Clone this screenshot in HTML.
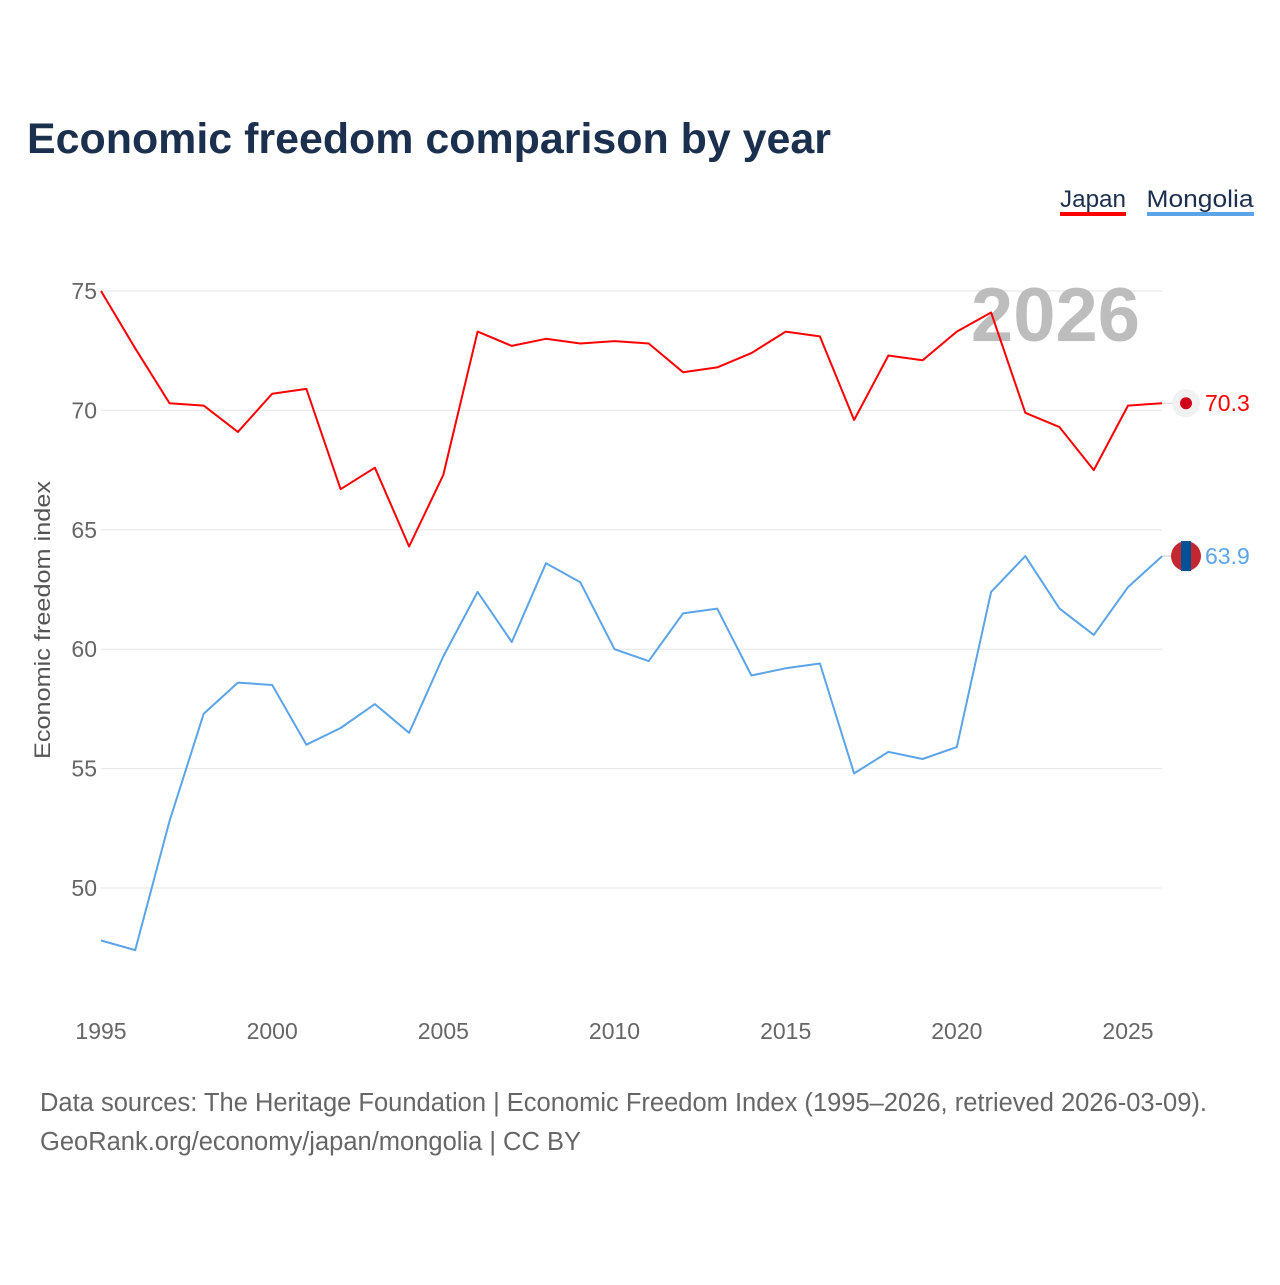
<!DOCTYPE html>
<html><head><meta charset="utf-8">
<style>
html,body{margin:0;padding:0;background:#fff;}
body{width:1280px;height:1280px;overflow:hidden;font-family:"Liberation Sans",sans-serif;}
</style></head>
<body>
<svg id="chart" width="1280" height="1280" xmlns="http://www.w3.org/2000/svg" font-family="Liberation Sans, sans-serif">
  <text x="27" y="153" font-size="43" font-weight="bold" fill="#1b2f4e" textLength="804" lengthAdjust="spacingAndGlyphs">Economic freedom comparison by year</text>
  <g>
    <g>
      <text x="1093" y="207" font-size="24" fill="#1b2f4e" text-anchor="middle" textLength="66" lengthAdjust="spacingAndGlyphs">Japan</text>
      <rect x="1060" y="212" width="66" height="4" fill="#ff0000"/>
    </g>
    <g>
      <text x="1200" y="207" font-size="24" fill="#1b2f4e" text-anchor="middle" textLength="107" lengthAdjust="spacingAndGlyphs">Mongolia</text>
      <rect x="1147" y="212" width="107" height="4" fill="#5ba4e8"/>
    </g>
  </g>
  <g id="grid"></g>
  <text x="1140" y="341" font-size="76" font-weight="bold" fill="#bdbdbd" text-anchor="end">2026</text>
  <text transform="translate(50,620) rotate(-90)" font-size="22" fill="#555" text-anchor="middle" textLength="278" lengthAdjust="spacingAndGlyphs">Economic freedom index</text>
  <g id="series"></g>
  <text x="40" y="1111" font-size="25.5" fill="#666" textLength="1167" lengthAdjust="spacingAndGlyphs">Data sources: The Heritage Foundation | Economic Freedom Index (1995–2026, retrieved 2026-03-09).</text>
  <text x="40" y="1150" font-size="25.5" fill="#666">GeoRank.org/economy/japan/mongolia | CC BY</text>
</svg>
<script>
const years = [1995,1996,1997,1998,1999,2000,2001,2002,2003,2004,2005,2006,2007,2008,2009,2010,2011,2012,2013,2014,2015,2016,2017,2018,2019,2020,2021,2022,2023,2024,2025,2026];
const japan = [75.0,72.6,70.3,70.2,69.1,70.7,70.9,66.7,67.6,64.3,67.3,73.3,72.7,73.0,72.8,72.9,72.8,71.6,71.8,72.4,73.3,73.1,69.6,72.3,72.1,73.3,74.1,69.9,69.3,67.5,70.2,70.3];
const mongolia = [47.8,47.4,52.8,57.3,58.6,58.5,56.0,56.7,57.7,56.5,59.7,62.4,60.3,63.6,62.8,60.0,59.5,61.5,61.7,58.9,59.2,59.4,54.8,55.7,55.4,55.9,62.4,63.9,61.7,60.6,62.6,63.9];
const yTicks = [50,55,60,65,70,75];
const xTicks = [1995,2000,2005,2010,2015,2020,2025];

const NS = "http://www.w3.org/2000/svg";
const xs = y => 101 + (y - 1995) * (1128 - 101) / 30;
const ys = v => 888 - (v - 50) * (888 - 291) / 25;
function mk(tag, attrs, parent){const e=document.createElementNS(NS,tag);for(const k in attrs)e.setAttribute(k,attrs[k]);parent.appendChild(e);return e;}

const grid = document.getElementById('grid');
yTicks.forEach(t=>{
  const l = mk('line',{x1:101,x2:1162,y1:ys(t),y2:ys(t),stroke:'#e6e6e6','stroke-width':1},grid);
  
  
  const tx = mk('text',{x:97,y:ys(t)+8,'font-size':23,fill:'#666','text-anchor':'end'},grid);
  tx.textContent = t;
  
  
});
xTicks.forEach(t=>{
  const tx = mk('text',{x:xs(t),y:1039,'font-size':23,fill:'#666','text-anchor':'middle'},grid);
  tx.textContent = t;
  
  
});

const series = document.getElementById('series');
function drawLine(vals,color,name){
  const d = vals.map((v,i)=>(i?'L':'M')+xs(years[i]).toFixed(1)+','+ys(v).toFixed(1)).join('');
  const p = mk('path',{d:d,fill:'none',stroke:color,'stroke-width':2,'stroke-linejoin':'round'},series);
  
  
}
drawLine(japan,'#ff0000','japan-line');
drawLine(mongolia,'#5ba4e8','mongolia-line');

const jl = japan[japan.length-1], ml = mongolia[mongolia.length-1];
const jx = xs(years[years.length-1]);
mk('line',{x1:jx,x2:1172,y1:ys(jl),y2:ys(jl),stroke:'#ccc','stroke-width':1},series);
const jf = mk('g',{},series);


mk('circle',{cx:1186,cy:ys(jl),r:14,fill:'#f1f1f1'},jf);
mk('circle',{cx:1186,cy:ys(jl),r:6,fill:'#d0021b'},jf);
const jt = mk('text',{x:1205,y:ys(jl)+8,'font-size':23,fill:'#ff0000'},series);
jt.textContent = jl.toFixed(1);



mk('line',{x1:jx,x2:1172,y1:ys(ml),y2:ys(ml),stroke:'#ccc','stroke-width':1},series);
const mf = mk('g',{},series);


mk('circle',{cx:1186,cy:ys(ml),r:15,fill:'#c4272f'},mf);
mk('rect',{x:1181,y:ys(ml)-15,width:10,height:30,fill:'#015197'},mf);
const mt = mk('text',{x:1205,y:ys(ml)+8,'font-size':23,fill:'#5ba4e8'},series);
mt.textContent = ml.toFixed(1);


</script>
</body></html>
